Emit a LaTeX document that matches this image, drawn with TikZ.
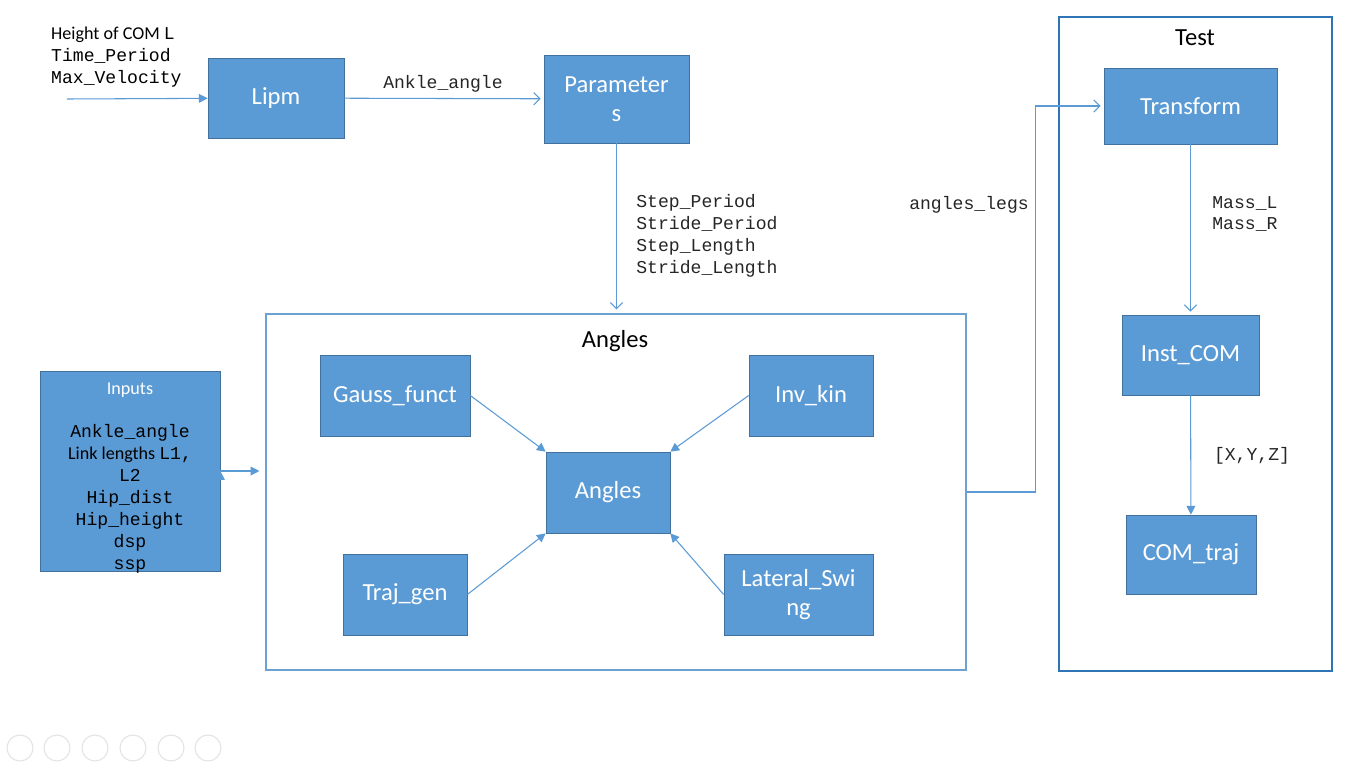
\documentclass[tikz,border=0pt]{standalone}
\usepackage{fontspec}
\setmainfont{Carlito}
\newfontfamily\codefont{Liberation Mono}
\usetikzlibrary{arrows.meta}

\definecolor{boxblue}{RGB}{91,155,213}
\definecolor{boxedge}{RGB}{65,113,156}
\definecolor{frameblue}{RGB}{46,117,182}
\definecolor{framelight}{RGB}{110,160,210}

\tikzset{
  block/.style={
    draw=boxedge,
    fill=boxblue,
    text=white,
    font=\fontsize{14}{16.5}\selectfont,
    align=center,
    inner sep=0pt,
    minimum width=2.48cm,
    minimum height=1.62cm
  },
  groupbox/.style={
    draw=frameblue,
    line width=0.7pt,
    inner sep=0pt
  },
  grouptitle/.style={
    font=\fontsize{14}{16.5}\selectfont
  },
  codetext/.style={
    font=\fontsize{10.3}{12.5}\selectfont\codefont,
    text=black!85,
    align=left,
    inner sep=0pt
  },
  flow/.style={
    draw,
    color=boxblue,
    line width=0.6pt,
    -{Triangle[length=5pt,width=5pt]}
  },
  openflow/.style={
    flow,
    -{Straight Barb[length=3.5pt,width=7pt]}
  }
}

\begin{document}
\begin{tikzpicture}[x=0.02cm, y=-0.02cm]
  \fill[white] (0,0) rectangle (1366,768);
  \useasboundingbox (0,0) rectangle (1366,768);

  % groups
  \node[groupbox, draw=framelight, minimum width=14cm, minimum height=7.12cm] at (616,492) (angbox) {};
  \node[groupbox, minimum width=5.46cm, minimum height=13.08cm] at (1195.5,344) (testbox) {};
  \node[grouptitle] at (615,341) (angtitle) {Angles};
  \node[grouptitle] at (1195,38) (testtitle) {Test};

  % top row
  \node[anchor=west, align=left, font=\fontsize{10.3}{12.5}\selectfont] at (45,57) (given)
    {Height of COM {\codefont L}\\{\codefont Time\_Period}\\{\codefont Max\_Velocity}};
  \coordinate (src) at (67,99);
  \node[block, minimum width=2.72cm, minimum height=1.6cm] at (276,98) (lipm) {Lipm};
  \node[block, minimum width=2.9cm, minimum height=1.76cm] at (616.5,99) (params) {Parameter\\s};

  % inputs
  \node[block, minimum width=3.6cm, minimum height=4cm] at (130,471) (inputs) {};
  \node[align=center, font=\fontsize{10.3}{12.5}\selectfont] at (130,478) (inputstext)
    {\textcolor{white}{Inputs}\\[12pt]
     {\codefont Ankle\_angle}\\
     Link lengths {\codefont L1,}\\
     {\codefont L2}\\
     {\codefont Hip\_dist}\\
     {\codefont Hip\_height}\\
     {\codefont dsp}\\
     {\codefont ssp}};

  % angles blocks
  \node[block, minimum width=3cm] at (395,395.5) (gauss) {Gauss\_funct};
  \node[block] at (811,395.5) (invkin) {Inv\_kin};
  \node[block] at (608,492.5) (angles) {Angles};
  \node[block] at (405,594.5) (trajgen) {Traj\_gen};
  \node[block, minimum width=2.98cm] at (798.5,594.5) (lateral) {Lateral\_Swi\\ng};

  % test blocks
  \node[block, minimum width=3.46cm, minimum height=1.52cm] at (1190.5,106) (transform) {Transform};
  \node[block, minimum width=2.74cm, minimum height=1.6cm] at (1190.5,355) (instcom) {Inst\_COM};
  \node[block, minimum width=2.6cm, minimum height=1.58cm] at (1191,554.5) (comtraj) {COM\_traj};

  % labels
  \node[codetext] at (443,84) (anklelbl) {Ankle\_angle};
  \node[codetext, anchor=west] at (636,236) (steplbl) {Step\_Period\\Stride\_Period\\Step\_Length\\Stride\_Length};
  \node[codetext] at (969,205) (legslbl) {angles\_legs};
  \node[codetext, anchor=west] at (1212,214) (masslbl) {Mass\_L\\Mass\_R};
  \node[codetext] at (1252,456) (xyzlbl) {[X,Y,Z]};

  % connectors
  \path[flow]
    (src) edge (lipm)
    (gauss.east) edge (angles.north west)
    (invkin.west) edge (angles.north east)
    (trajgen.east) edge (angles.south west)
    (lateral.west) edge (angles.south east)
    (inputs.east) edge[shorten >=0.12cm] (inputs.east -| angbox.west)
    (instcom) edge (comtraj);
  \path[openflow]
    (lipm) edge[shorten >=0.06cm] (params)
    (params) edge[shorten >=0.08cm] (params |- angbox.north)
    (transform) edge[shorten >=0.06cm] (instcom);
  \draw[openflow, shorten >=0.06cm] (angbox.east) -- ++(69,0) |- (transform.west);

  % viewer buttons
  \foreach \cx in {20,57,95,133,171,208}
    \draw[gray!22, line width=0.6pt] (\cx,748) circle (0.26cm);
\end{tikzpicture}
\end{document}
